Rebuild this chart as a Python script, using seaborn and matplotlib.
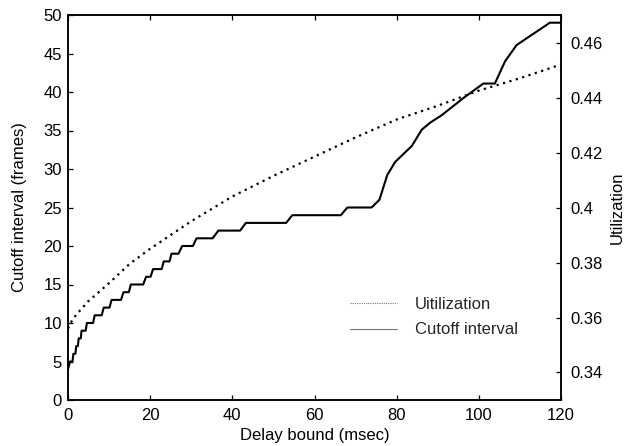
import matplotlib
matplotlib.use("Agg")
import matplotlib.pyplot as plt
from matplotlib.lines import Line2D
import seaborn as sns
import pandas as pd

# ---- data ----
delay_cut = [0, 0.5, 1.1, 1.3, 1.8, 2.0, 2.4, 2.6, 3.1, 3.3, 4.3, 4.6, 6.1, 6.5, 8.2, 8.7,
             10.1, 10.6, 12.9, 13.5, 14.8, 15.3, 18.3, 19.0, 20.1, 20.7, 22.8, 23.3, 24.7,
             25.2, 26.9, 27.8, 30.4, 31.3, 35.2, 36.6, 41.9, 43.3, 53.1, 54.6, 66.4, 68.0,
             73.9, 75.8, 77.7, 79.6, 83.7, 86.1, 88.1, 91.0, 96.2, 101.1, 103.9, 106.4,
             109.2, 117.3, 120]
cutoff = [4, 5, 5, 6, 6, 7, 7, 8, 8, 9, 9, 10, 10, 11, 11, 12,
          12, 13, 13, 14, 14, 15, 15, 16, 16, 17, 17, 18, 18,
          19, 19, 20, 20, 21, 21, 22, 22, 23, 23, 24, 24, 25,
          25, 26, 29.2, 30.9, 33, 35.1, 36, 37, 39.2, 41.1, 41.1, 44,
          46.1, 49, 49]

delay_util = [0, 1, 2, 5, 10, 15, 20, 25, 30, 40, 50, 60, 70, 80, 90, 100, 110, 120]
utilization = [0.356, 0.359, 0.361, 0.366, 0.3725, 0.3795, 0.385, 0.390, 0.395, 0.404,
               0.4115, 0.4185, 0.4255, 0.432, 0.437, 0.4425, 0.447, 0.452]

x_ticks = [0, 20, 40, 60, 80, 100, 120]
left_ticks = [0, 5, 10, 15, 20, 25, 30, 35, 40, 45, 50]
right_ticks = [0.34, 0.36, 0.38, 0.40, 0.42, 0.44, 0.46]
right_labels = ["0.34", "0.36", "0.38", "0.4", "0.42", "0.44", "0.46"]
legend_labels = ["Uitilization", "Cutoff interval"]

sns.set_theme(style="ticks")
plt.rcParams["font.family"] = ["Liberation Sans", "DejaVu Sans"]

df_cut = pd.DataFrame({"delay": delay_cut, "cutoff": cutoff})
df_util = pd.DataFrame({"delay": delay_util, "util": utilization})

fig = plt.figure(figsize=(6.26, 4.46), dpi=100)
ax = fig.add_axes([68 / 626, 46 / 446, 493 / 626, 385 / 446])
ax2 = ax.twinx()

sns.lineplot(data=df_cut, x="delay", y="cutoff", ax=ax, color="black", linewidth=1.5,
             estimator=None, sort=False)
sns.lineplot(data=df_util, x="delay", y="util", ax=ax2, color="black", linewidth=1.6,
             estimator=None, sort=False, linestyle=(0, (1, 2.0)))

ax.set_xlim(0, 120)
ax.set_ylim(0, 50)
ax2.set_ylim(0.33, 0.47)
ax.set_xticks(x_ticks)
ax.set_xticklabels([str(v) for v in x_ticks])
ax.set_yticks(left_ticks)
ax.set_yticklabels([str(v) for v in left_ticks])
ax2.set_yticks(right_ticks)
ax2.set_yticklabels(right_labels)

for a in (ax, ax2):
    for s in a.spines.values():
        s.set_visible(True)
        s.set_linewidth(1.1)
        s.set_color("black")

ax.tick_params(axis="x", direction="in", top=True, bottom=True, length=3.6, width=0.9,
               labelsize=12, pad=5.5, colors="black")
ax.tick_params(axis="y", direction="in", left=True, right=False, length=3.6, width=0.9,
               labelsize=12, pad=4.3, colors="black")
ax2.tick_params(axis="y", direction="in", right=True, left=False, length=3.6, width=0.9,
                labelsize=12, pad=6.5, colors="black")

ax.set_xlabel("Delay bound (msec)", fontsize=12, color="black")
ax.set_ylabel("Cutoff interval (frames)", fontsize=12, color="black")
ax.xaxis.set_label_coords(0.5, -0.072)
ax.yaxis.set_label_coords(-0.083, 0.5)
ax2.set_ylabel("")
fig.text(625 / 626, 1 - 208 / 446, "Utilization", rotation=90, ha="right", va="center",
         fontsize=12, color="black")

handles = [Line2D([], [], color="#777777", lw=0.8, linestyle=(0, (1, 1))),
           Line2D([], [], color="#777777", lw=0.8)]
ax2.legend(handles, legend_labels, loc="center left",
           bbox_to_anchor=(350 / 626, (446 - 317) / 446), bbox_transform=fig.transFigure,
           frameon=False, fontsize=12, handlelength=2.8, handletextpad=1.1,
           labelspacing=0.65, borderpad=0, borderaxespad=0)

fig.savefig("out.png", dpi=100)
